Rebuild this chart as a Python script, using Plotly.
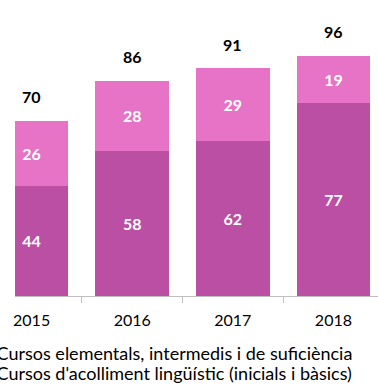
import plotly.graph_objects as go

years = ["2015", "2016", "2017", "2018"]
acolliment = [44, 58, 62, 77]
elementals = [26, 28, 29, 19]
totals = [a + e for a, e in zip(acolliment, elementals)]

name_acolliment = "Cursos d'acolliment lingüístic (inicials i bàsics)"
name_elementals = "Cursos elementals, intermedis i de suficiència"

FONT = "Lato"


def plot_courses():
    fig = go.Figure()
    fig.add_trace(
        go.Bar(
            x=years,
            y=acolliment,
            name=name_acolliment,
            legend="legend2",
            marker=dict(color="#BB4FA3", line=dict(width=0)),
            text=acolliment,
            textposition="inside",
            insidetextanchor="middle",
            textfont=dict(family=FONT, size=16, color="white", weight="bold"),
        )
    )
    fig.add_trace(
        go.Bar(
            x=years,
            y=elementals,
            name=name_elementals,
            legend="legend",
            marker=dict(color="#E673C5", line=dict(width=0)),
            text=elementals,
            textposition="inside",
            insidetextanchor="middle",
            textfont=dict(family=FONT, size=16, color="white", weight="bold"),
        )
    )

    # totals above each stack (category index on the x axis)
    for i, total in enumerate(totals):
        fig.add_annotation(
            x=i,
            y=total,
            text=str(total),
            showarrow=False,
            yanchor="middle",
            yshift=24,
            font=dict(family=FONT, size=16, color="black", weight="bold"),
        )

    legend_style = dict(
        orientation="v",
        x=-0.161,
        xanchor="left",
        yanchor="top",
        font=dict(family=FONT, size=18, color="black"),
        bgcolor="rgba(0,0,0,0)",
    )
    fig.update_layout(
        barmode="stack",
        bargap=0.27,
        width=378,
        height=387,
        margin=dict(l=15, r=0, t=8, b=91, autoexpand=False),
        paper_bgcolor="white",
        plot_bgcolor="white",
        font=dict(family=FONT, size=16, color="black"),
        uniformtext=dict(mode="show", minsize=16),
        legend=dict(legend_style, y=-0.135),
        legend2=dict(legend_style, y=-0.203),
        showlegend=True,
    )
    fig.update_xaxes(
        type="category",
        range=[-0.165, 3.443],
        showline=True,
        linecolor="#BFBFBF",
        linewidth=1,
        ticks="outside",
        tickson="boundaries",
        ticklen=6,
        tickcolor="#BFBFBF",
        showgrid=False,
        tickfont=dict(family=FONT, size=16, color="black"),
        ticklabelstandoff=10,
    )
    fig.update_yaxes(
        range=[0, 115],
        visible=False,
        showgrid=False,
        zeroline=False,
    )
    return fig


fig = plot_courses()
# page body margin off so the figure sits at the window's top-left corner
fig.write_html(
    "out.html",
    config={"displayModeBar": False},
    post_script="document.body.style.margin = '0';",
)
